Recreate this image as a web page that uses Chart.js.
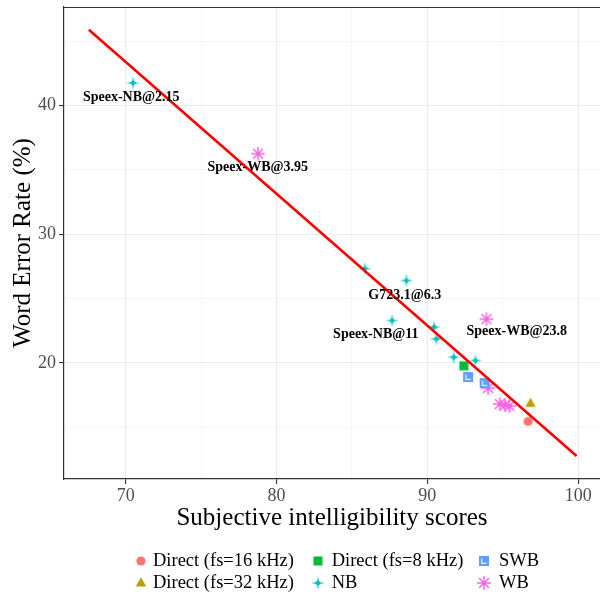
<!DOCTYPE html>
<html><head><meta charset="utf-8">
<script src="https://cdn.jsdelivr.net/npm/chart.js@4/dist/chart.umd.min.js"></script>
<style>html,body{margin:0;padding:0;background:#fff;}#wrap{width:600px;height:597px;position:relative;}</style>
</head><body><div id="wrap"><canvas id="c"></canvas></div>
<script>
// ---- data ----
const xTicks = [70, 80, 90, 100];
const yTicks = [20, 30, 40];
const seriesNames = ['Direct (fs=16 kHz)', 'Direct (fs=32 kHz)', 'Direct (fs=8 kHz)', 'NB', 'SWB', 'WB'];
const direct16X = [96.68];
const direct16Y = [15.45];
const direct32X = [96.84];
const direct32Y = [16.85];
const direct8X = [92.42];
const direct8Y = [19.77];
const nbX = [70.48, 85.85, 88.61, 87.66, 90.45, 90.6, 91.75, 93.19];
const nbY = [41.77, 27.32, 26.4, 23.29, 22.78, 21.87, 20.44, 20.18];
const swbX = [92.7, 93.8];
const swbY = [18.9, 18.42];
const wbX = [78.77, 93.92, 94.03, 94.8, 95.15, 95.45];
const wbY = [36.26, 23.4, 18.05, 16.8, 16.72, 16.65];
const fitX = [67.55, 99.9];
const fitY = [45.9, 12.76];
const annotText = ['Speex-NB@2.15', 'Speex-WB@3.95', 'G723.1@6.3', 'Speex-NB@11', 'Speex-WB@23.8'];
const annotX = [70.36, 78.75, 88.5, 86.58, 95.93];
const annotY = [40.68, 35.23, 25.24, 22.18, 22.44];

// ---- marker images ----
function mk(size, draw){const c=document.createElement('canvas');c.width=c.height=size;const g=c.getContext('2d');g.translate(size/2,size/2);draw(g);return c;}
const imgCircle = mk(12, g=>{g.fillStyle='#F8766D';g.beginPath();g.arc(0,0,4.6,0,Math.PI*2);g.fill();});
const imgTri = mk(14, g=>{g.fillStyle='#B79F00';g.beginPath();g.moveTo(0,-5.8);g.lineTo(5.2,3.4);g.lineTo(-5.2,3.4);g.closePath();g.fill();});
const imgSq = mk(12, g=>{g.fillStyle='#00BA38';g.fillRect(-4.5,-4.5,9,9);});
const imgNB = mk(16, g=>{g.fillStyle='#00BFC4';g.beginPath();for(let i=0;i<8;i++){const a=i*Math.PI/4;const r=i%2===0?7:1.4;g.lineTo(r*Math.cos(a),r*Math.sin(a));}g.closePath();g.fill();g.beginPath();g.arc(0,0,2.3,0,Math.PI*2);g.fill();});
const imgSWB = mk(14, g=>{g.fillStyle='#619CFF';g.fillRect(-5,-5,10,10);g.strokeStyle='rgba(255,255,255,0.9)';g.lineWidth=1.2;g.beginPath();g.moveTo(-2.2,-2.5);g.lineTo(-2.2,2.3);g.lineTo(2.5,2.3);g.stroke();});
const imgWB = mk(16, g=>{g.strokeStyle='#F564E3';g.lineWidth=1.5;g.lineCap='round';for(let i=0;i<4;i++){const a=i*Math.PI/4;const r=6.3;g.beginPath();g.moveTo(-r*Math.cos(a),-r*Math.sin(a));g.lineTo(r*Math.cos(a),r*Math.sin(a));g.stroke();}g.fillStyle='#F564E3';g.beginPath();g.arc(0,0,1.8,0,Math.PI*2);g.fill();});
const markerImgs = [imgCircle, imgTri, imgSq, imgNB, imgSWB, imgWB];

function pts(xs, ys){return xs.map((x,i)=>({x:x, y:ys[i]}));}
const seriesData = [pts(direct16X,direct16Y), pts(direct32X,direct32Y), pts(direct8X,direct8Y), pts(nbX,nbY), pts(swbX,swbY), pts(wbX,wbY)];

const datasets = [{
  type:'line', label:'fit', data: pts(fitX, fitY), borderColor:'#FF0000', borderWidth:2.6,
  pointRadius:0, showLine:true, fill:false, order:0
}];
seriesNames.forEach((n,i)=>datasets.push({label:n, data:seriesData[i], pointStyle:markerImgs[i], pointRadius:6, order:1+i}));

const serif = 'Liberation Serif, Times New Roman, serif';

const framePlugin = {
  id:'frame',
  afterDraw(chart){
    const {ctx, chartArea:a, scales} = chart;
    ctx.save();
    ctx.strokeStyle='#333333'; ctx.lineWidth=1.2;
    ctx.beginPath(); ctx.moveTo(a.left, a.top+0.5); ctx.lineTo(a.right, a.top+0.5); ctx.stroke();
    // annotations
    ctx.font = 'bold 14px ' + serif; ctx.fillStyle='#000'; ctx.textAlign='center'; ctx.textBaseline='middle';
    annotText.forEach((t,i)=>{ctx.fillText(t, scales.x.getPixelForValue(annotX[i]), scales.y.getPixelForValue(annotY[i]));});
    // legend (ggplot style, 3 columns x 2 rows, filled by column)
    const colMarkX = [140.7, 318.3, 484];
    const colTextX = [153, 331.7, 499];
    const rowY = [560.5, 582.5];
    const layout = [[0,0],[0,1],[1,0],[1,1],[2,0],[2,1]];
    ctx.font = '18.5px ' + serif; ctx.textAlign='left'; ctx.fillStyle='#000';
    seriesNames.forEach((n,i)=>{
      const [c,r] = layout[i];
      const img = markerImgs[i];
      ctx.drawImage(img, Math.round(colMarkX[c]-img.width/2), Math.round(rowY[r]-img.height/2));
      ctx.fillText(n, colTextX[c], rowY[r]+1);
    });
    ctx.restore();
  }
};

function zeroPad(s){s.paddingLeft=0;s.paddingRight=0;s.paddingTop=0;s.paddingBottom=0;}

new Chart(document.getElementById('c'), {
  type:'scatter',
  data:{datasets},
  options:{
    responsive:true, maintainAspectRatio:false, animation:false,
    layout:{autoPadding:false, padding:{top:7, right:0, bottom:58, left:0}},
    plugins:{legend:{display:false}, tooltip:{enabled:false}},
    scales:{
      x:{type:'linear', min:65.9, max:101.45,
        afterFit(s){s.height=60;zeroPad(s);},
        ticks:{stepSize:5, includeBounds:false, autoSkip:false, maxRotation:0, padding:1,
          color:'#4D4D4D', font:{family:serif, size:18},
          callback:v=>xTicks.includes(v)?String(v):''},
        grid:{color:c=>c.tick && c.tick.value%10===0?'#EBEBEB':'#F2F2F2', lineWidth:c=>c.tick && c.tick.value%10===0?1.1:0.8,
          tickLength:5, tickColor:c=>c.tick && c.tick.value%10===0?'#333333':'rgba(0,0,0,0)'},
        border:{display:true, color:'#333333', width:1.2},
        title:{display:true, text:'Subjective intelligibility scores', color:'#000', font:{family:serif, size:25}, padding:{top:0,bottom:6}}
      },
      y:{type:'linear', min:10.97, max:47.67,
        afterFit(s){s.width=64;zeroPad(s);},
        ticks:{stepSize:5, includeBounds:false, autoSkip:false, padding:3,
          color:'#4D4D4D', font:{family:serif, size:18},
          callback:v=>yTicks.includes(v)?String(v):''},
        grid:{color:c=>c.tick && c.tick.value%10===0?'#EBEBEB':'#F2F2F2', lineWidth:c=>c.tick && c.tick.value%10===0?1.1:0.8,
          tickLength:5, tickColor:c=>c.tick && c.tick.value%10===0?'#333333':'rgba(0,0,0,0)'},
        border:{display:true, color:'#333333', width:1.2},
        title:{display:true, text:'Word Error Rate (%)', color:'#000', font:{family:serif, size:25}, padding:{top:8,bottom:0}}
      }
    }
  },
  plugins:[framePlugin]
});
</script></body></html>
